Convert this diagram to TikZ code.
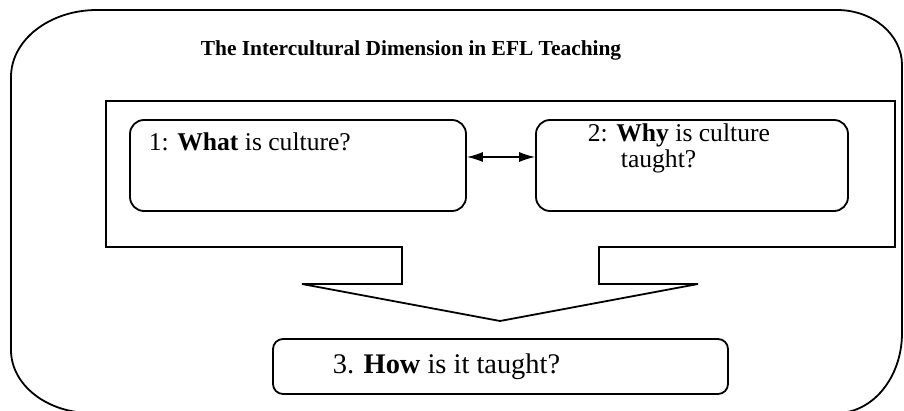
\documentclass[tikz,border=0pt]{standalone}
\usepackage{fontspec}
\setmainfont{Liberation Serif}
\usetikzlibrary{arrows.meta}
\begin{document}
\begin{tikzpicture}[x=0.5pt,y=-0.5pt,line width=0.9pt,
  qbox/.style={draw,rounded corners=7pt,inner sep=0pt},
  qtext/.style={anchor=base west,inner sep=0pt,font=\fontsize{12.8}{15}\selectfont}]
\useasboundingbox (0,0) rectangle (904,411);
\clip (0,0) rectangle (904,411);
% Outer frame
\draw (97,10) -- (837,10)
  arc[start angle=90,end angle=0,x radius=32.5pt,y radius=27.5pt] -- (902,333)
  arc[start angle=0,end angle=-90,x radius=32.5pt,y radius=40pt] -- (91,413)
  arc[start angle=270,end angle=180,x radius=40pt,y radius=31.5pt] -- (11,77)
  arc[start angle=180,end angle=90,x radius=43pt,y radius=33.5pt];
\node[anchor=base,inner sep=0pt,font=\bfseries\fontsize{10.7}{13}\selectfont] (title) at (411,56)
  {The Intercultural Dimension in EFL Teaching};

% Callout with the big arrow
\draw (106,101) -- (895,101) -- (895,247) -- (599,247) -- (599,284) -- (698,284)
  -- (500,321) -- (302,284) -- (402,284) -- (402,247) -- (106,247) -- cycle;

% Question boxes
\node[qbox,minimum width=168pt,minimum height=45.5pt] (what) at (298,165.5) {};
\node[qbox,minimum width=156pt,minimum height=45.5pt] (why) at (692,165.5) {};
\node[qbox,rounded corners=5pt,minimum width=227.5pt,minimum height=27.5pt] (how) at (500.5,366.5) {};
\node[qtext] (whattxt) at (148,151) {1: \textbf{What} is culture?};
\node[qtext] (whytxt) at (587,142) {2: \textbf{Why} is culture};
\node[qtext] (whytxt2) at (620,168) {taught?};
\node[qtext,font=\fontsize{14.2}{16}\selectfont] (howtxt) at (332,373) {3. \textbf{How} is it taught?};

% Two-way link
\draw[line width=0.6pt,{Latex[length=8pt,width=5pt]}-{Latex[length=8pt,width=5pt]}]
  ([yshift=4.25pt]what.east) -- ([yshift=4.25pt]why.west);
\end{tikzpicture}
\end{document}
